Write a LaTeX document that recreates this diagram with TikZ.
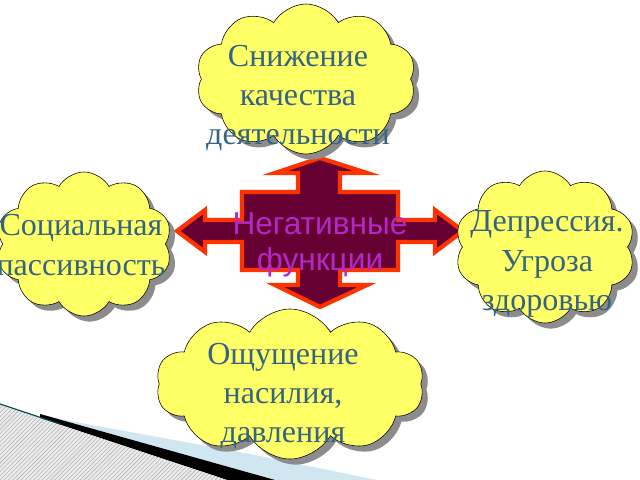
\documentclass[tikz,border=0pt]{standalone}
\usepackage{fontspec}
\setmainfont{Liberation Serif}
\newfontfamily\arialfont{Liberation Sans}
\usetikzlibrary{shapes.symbols,shadows,patterns}
\definecolor{txtblue}{RGB}{52,100,130}
\definecolor{cloudyellow}{RGB}{255,255,102}
\definecolor{crossfill}{RGB}{102,0,51}
\definecolor{crossedge}{RGB}{255,51,0}
\definecolor{negtext}{RGB}{180,40,200}
\definecolor{bandblue}{RGB}{208,230,240}

\begin{document}
\begin{tikzpicture}[
	  x=0.025cm, y=-0.025cm,
	  puff/.style={cloud, cloud puffs=10, cloud puff arc=120, cloud ignores aspect,
	    draw=black, fill=cloudyellow, inner sep=0pt,
	    drop shadow={shadow xshift=4pt, shadow yshift=-4pt, fill=black!45, opacity=1}},
	  lbl/.style={text=txtblue, align=center, font=\fontsize{22.8}{28}\selectfont},
	  cross/.style={fill=crossfill, draw=crossedge, line width=3pt, line join=miter},
	]
	\useasboundingbox (0,0) rectangle (640,480);

	% slide decoration
	\fill [bandblue] (70,421) -- (250,454) -- (377,480) -- (275,480) -- (40,414) -- cycle;
	\fill [black] (40,414) -- (275,480) -- (227,480) -- (40,418) -- cycle;
	\fill [gray!15] (0,405) -- (227,480) -- (0,480) -- cycle;
	\fill [pattern=north east lines, pattern color=gray!60] (0,405) -- (227,480) -- (0,480) -- cycle;
	\draw [teal!60!black, thick] (0,404) -- (60,424);

	% four-way arrow
	\draw [cross] (320,158) -- (367,173) -- (340,173) -- (340,192) -- (398,192)
	  -- (398,220) -- (435,220) -- (435,210) -- (463,231) -- (435,252) -- (435,242)
	  -- (398,242) -- (398,270) -- (340,270) -- (340,285) -- (367,285) -- (320,307)
	  -- (275,285) -- (298,285) -- (298,270) -- (242,270) -- (242,242) -- (205,242)
	  -- (205,252) -- (177,231) -- (205,210) -- (205,220) -- (242,220) -- (242,192)
	  -- (298,192) -- (298,173) -- (275,173) -- cycle;
	\node (neg) [text=negtext, align=center, font=\arialfont\fontsize{22.5}{26}\selectfont]
	  at (320,245) {Негативные\\функции};

	% clouds
	\node (top) [puff, minimum width=5.5cm, minimum height=3.75cm] at (306,79) {};
	\node (left) [puff, minimum width=4.4cm, minimum height=3.6cm] at (84,244) {};
	\node (right) [puff, minimum width=4.5cm, minimum height=3.8cm] at (545,247) {};
	\node (bottom) [puff, minimum width=6.7cm, minimum height=3.75cm] at (290,384) {};

	\node (toptext) [lbl] at (298,98) {Снижение\\качества\\деятельности};
	\node (lefttext) [lbl] at (81,245) {Социальная\\пассивность};
	\node (righttext) [lbl] at (547,264) {Депрессия.\\Угроза\\здоровью};
	\node (bottomtext) [lbl] at (283,396) {Ощущение\\насилия,\\давления};
\end{tikzpicture}
\end{document}
